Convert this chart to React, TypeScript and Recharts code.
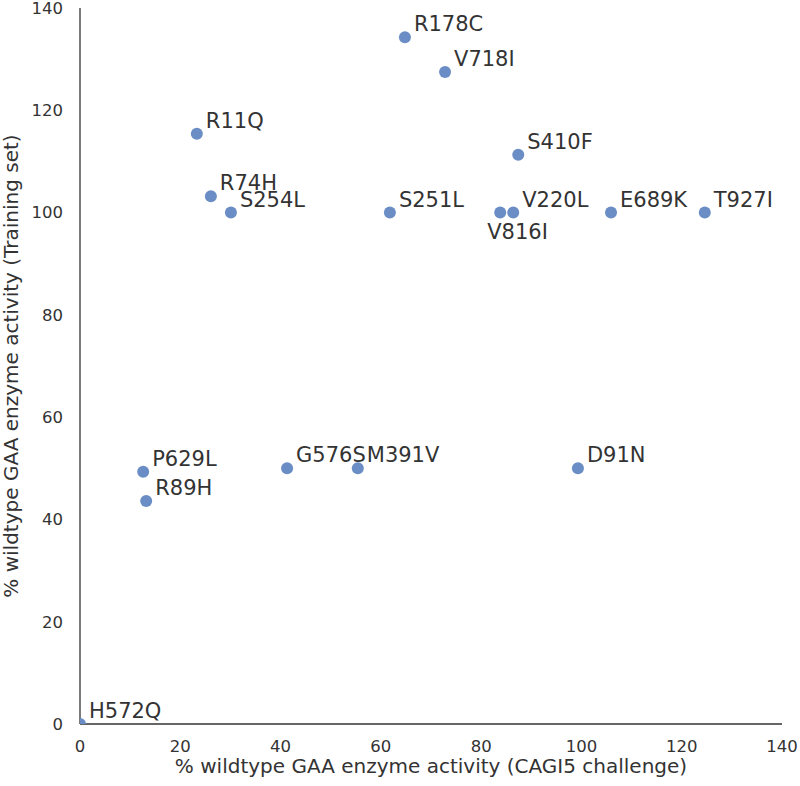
import React from 'react';
import { ScatterChart, Scatter, XAxis, YAxis } from 'recharts';

const variants = ['R178C', 'V718I', 'R11Q', 'S410F', 'R74H', 'S254L', 'S251L', 'V816I', 'V220L', 'E689K', 'T927I', 'P629L', 'R89H', 'G576S', 'M391V', 'D91N', 'H572Q'];
const cagi5Activity = [64.8, 72.8, 23.3, 87.4, 26.1, 30.1, 61.8, 83.8, 86.4, 105.9, 124.6, 12.6, 13.2, 41.3, 55.4, 99.3, 0];
const trainingActivity = [134.3, 127.5, 115.4, 111.3, 103.2, 100, 100, 100, 100, 100, 100, 49.3, 43.6, 50, 50, 50, 0];
const axisTicks = [0, 20, 40, 60, 80, 100, 120, 140];

const data = variants.map((name, i) => ({ name, x: cagi5Activity[i], y: trainingActivity[i] }));

// label placement (style only)
const labelOffset: Record<string, [number, number]> = {
  V816I: [-13, 26.5],
};
const defaultOffset: [number, number] = [9, -6];

const FONT = '"DejaVu Sans", sans-serif';
const DOT = '#6a8dc5';
const INK = '#333333';

const PointShape = (props: any) => {
  const { cx, cy, payload } = props;
  const [dx, dy] = labelOffset[payload.name] || defaultOffset;
  return (
    <g>
      <circle cx={cx} cy={cy} r={6} fill={DOT} />
      <text x={cx + dx} y={cy + dy} fontSize={21} fill={INK} fontFamily={FONT}>
        {payload.name}
      </text>
    </g>
  );
};

export default function App() {
  return (
    <div style={{ position: 'absolute', left: 0, top: 0, width: 800, height: 786, background: '#fff' }}>
      <ScatterChart width={800} height={786} margin={{ top: 8, right: 18, left: 0, bottom: 0 }}>
        <XAxis
          type="number"
          dataKey="x"
          domain={[0, 140]}
          ticks={axisTicks}
          interval={0}
          height={62}
          tickLine={false}
          tickSize={0}
          tickMargin={16}
          stroke={INK}
          axisLine={{ stroke: INK, strokeWidth: 1.3 }}
          tick={{ fill: INK, fontSize: 16.5, fontFamily: FONT }}
          allowDataOverflow
          label={{
            value: '% wildtype GAA enzyme activity (CAGI5 challenge)',
            position: 'insideBottom',
            offset: 13,
            fill: INK,
            fontSize: 20,
            fontFamily: FONT,
          }}
        />
        <YAxis
          type="number"
          dataKey="y"
          domain={[0, 140]}
          ticks={axisTicks}
          interval={0}
          width={80}
          tickLine={false}
          tickSize={0}
          tickMargin={17}
          stroke={INK}
          axisLine={{ stroke: INK, strokeWidth: 1.3 }}
          tick={{ fill: INK, fontSize: 16.5, fontFamily: FONT }}
          allowDataOverflow
          label={{
            value: '% wildtype GAA enzyme activity (Training set)',
            angle: -90,
            position: 'insideLeft',
            offset: 11,
            style: { textAnchor: 'middle' },
            fill: INK,
            fontSize: 20,
            fontFamily: FONT,
          }}
        />
        <Scatter data={data} isAnimationActive={false} shape={PointShape} />
      </ScatterChart>
    </div>
  );
}
